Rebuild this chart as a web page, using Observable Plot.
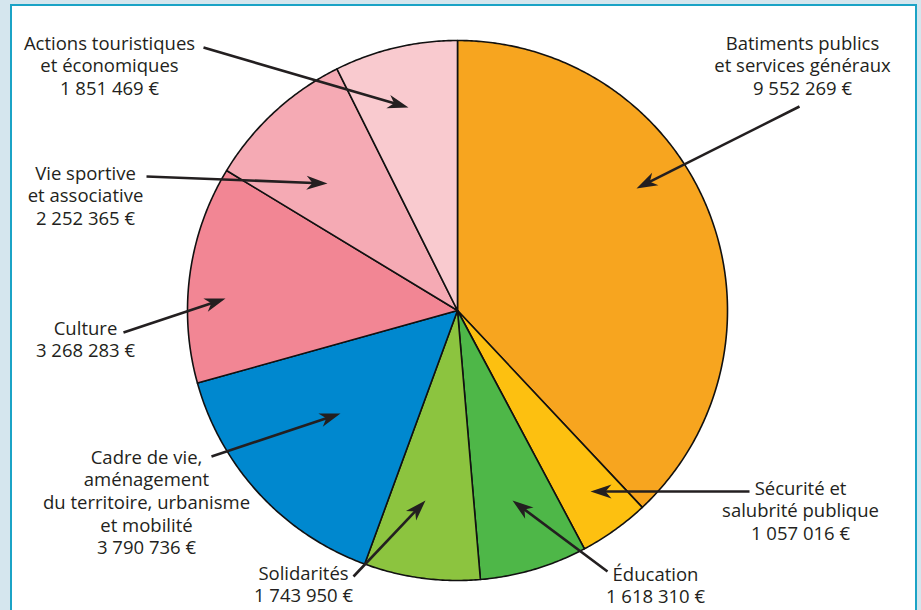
<!DOCTYPE html>
<html>
<head>
<meta charset="utf-8">
<script src="https://cdn.jsdelivr.net/npm/d3@7"></script>
<script src="https://cdn.jsdelivr.net/npm/@observablehq/plot@0.6"></script>
<style>
html, body { margin: 0; padding: 0; background: #d5e6ee; overflow: hidden; width: 921px; height: 610px; }
#frame { position: absolute; left: 10px; top: 4px; width: 903px; height: 700px; background: #ffffff; border: 2px solid #1ba3c6; }
#chart { position: absolute; left: 0; top: 0; }
</style>
</head>
<body>
<div id="frame"></div>
<div id="chart"></div>
<script>
// ---- Data ----
const categories = [
  "Batiments publics\net services généraux",
  "Sécurité et\nsalubrité publique",
  "Éducation",
  "Solidarités",
  "Cadre de vie,\naménagement\ndu territoire, urbanisme\net mobilité",
  "Culture",
  "Vie sportive\net associative",
  "Actions touristiques\net économiques"
];
const amounts = [9552269, 1057016, 1618310, 1743950, 3790736, 3268283, 2252365, 1851469];
const colors = ["#f7a51f", "#fdc010", "#4eb748", "#8cc43f", "#0088cf", "#f28694", "#f5aab4", "#f9cacf"];

// ---- Layout (pixels) ----
const W = 921, H = 610;
const CX = 457, CY = 310, R = 270;
const labelX = [802, 800, 655, 303, 146, 85, 85, 109];
const labelBaseline = [46.5, 491.5, 577.5, 576.5, 460.5, 331.5, 176.5, 46.5];
const arrowFrom = [[799,106],[749,491],[607,571],[353,576],[211,456],[123,332],[146,176],[203,47]];
const arrowTo = [[636,188],[590,491],[512,500],[425,500],[340,413],[225,298],[327,183],[408,107]];
const FS = 18.5, LH = 1.22;

// pixel -> data units (radius = 1)
const ux = px => (px - CX) / R;
const uy = py => (CY - py) / R;

const loc = d3.formatLocale({decimal: ",", thousands: " ", grouping: [3], currency: ["", " €"]});
const fmt = loc.format(",");

// ---- Pie geometry from values ----
const arcs = d3.pie().sort(null).value(d => d)(amounts);
const poly = [];
arcs.forEach((a, i) => {
  poly.push({k: i, x: 0, y: 0, c: colors[i]});
  const n = Math.max(2, Math.ceil((a.endAngle - a.startAngle) / (Math.PI / 360)));
  for (let j = 0; j <= n; j++) {
    const t = a.startAngle + (a.endAngle - a.startAngle) * j / n;
    poly.push({k: i, x: Math.sin(t), y: Math.cos(t), c: colors[i]});
  }
  poly.push({k: i, x: 0, y: 0, c: colors[i]});
});

// ---- Arrows ----
const HEAD_L = 21, HEAD_W = 7, NOTCH = 15;
const shafts = [], heads = [];
categories.forEach((c, i) => {
  const [x1, y1] = arrowFrom[i], [x2, y2] = arrowTo[i];
  const dx = x2 - x1, dy = y2 - y1, L = Math.hypot(dx, dy);
  const ex = dx / L, ey = dy / L, nx = -ey, ny = ex;
  const bx = x2 - ex * HEAD_L, by = y2 - ey * HEAD_L;
  const mx = x2 - ex * NOTCH, my = y2 - ey * NOTCH;
  shafts.push({x1: ux(x1), y1: uy(y1), x2: ux(mx + ex), y2: uy(my + ey)});
  [[x2, y2], [bx + nx * HEAD_W, by + ny * HEAD_W], [mx, my], [bx - nx * HEAD_W, by - ny * HEAD_W], [x2, y2]]
    .forEach(([px, py]) => heads.push({k: i, x: ux(px), y: uy(py)}));
});

// ---- Labels ----
const labels = categories.map((c, i) => ({
  x: ux(labelX[i]),
  y: uy(labelBaseline[i] - 0.71 * FS),
  text: c + "\n" + fmt(amounts[i]) + " €"
}));

const chart = Plot.plot({
  width: W,
  height: H,
  margin: 0,
  x: {domain: [ux(0), ux(W)], axis: null},
  y: {domain: [uy(H), uy(0)], axis: null},
  color: {type: "identity"},
  style: {background: "transparent", overflow: "visible"},
  marks: [
    Plot.line(poly, {x: "x", y: "y", z: "k", fill: "c", stroke: "#111111", strokeWidth: 1.6, curve: "linear", strokeLinejoin: "round"}),
    Plot.link(shafts, {x1: "x1", y1: "y1", x2: "x2", y2: "y2", stroke: "#231f20", strokeWidth: 2.6}),
    Plot.line(heads, {x: "x", y: "y", z: "k", fill: "#231f20", stroke: "none", curve: "linear"}),
    Plot.text(labels, {x: "x", y: "y", text: "text", fontSize: FS, lineHeight: LH, lineAnchor: "top", textAnchor: "middle", fill: "#231f20", fontFamily: "'Open Sans', sans-serif"})
  ]
});
document.getElementById("chart").appendChild(chart);
</script>
</body>
</html>
